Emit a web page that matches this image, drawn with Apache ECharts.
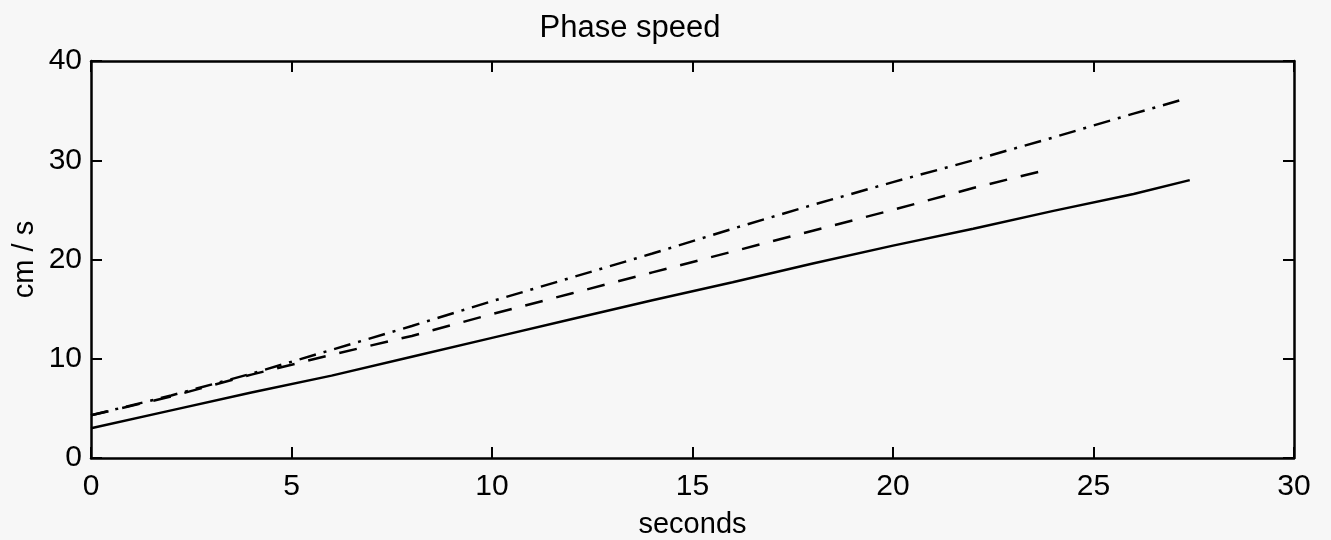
<!DOCTYPE html>
<html>
<head>
<meta charset="utf-8">
<script src="https://cdn.jsdelivr.net/npm/echarts@6/dist/echarts.min.js"></script>
<style>
html,body{margin:0;padding:0;background:#f7f7f7;}
#chart{width:1331px;height:540px;}
</style>
</head>
<body>
<div id="chart"></div>
<script>
const titleText = "Phase speed";
const xLabel = "seconds";
const yLabel = "cm / s";
const xTicks = [0, 5, 10, 15, 20, 25, 30];
const yTicks = [0, 10, 20, 30, 40];

// [seconds, cm/s]
const solidSeries = [[0,3.0],[2,4.8],[4,6.6],[6,8.3],[8,10.2],[10,12.1],[12,14.0],[14,15.9],[16,17.7],[18,19.6],[20,21.4],[22,23.1],[24,24.9],[26,26.6],[27.4,28.0]];
const dashedSeries = [[0,4.3],[2,6.2],[4,8.4],[6,10.4],[8,12.3],[10,14.5],[12,16.6],[14,18.7],[16,20.8],[18,22.9],[20,25.0],[22,27.2],[23.7,28.9]];
const dashDotSeries = [[0,4.3],[2,6.3],[4,8.5],[6,10.9],[8,13.3],[10,15.8],[12,18.2],[14,20.6],[16,23.1],[18,25.5],[20,27.8],[22,30.0],[24,32.3],[26,34.7],[27.3,36.2]];

const FONT = "'Liberation Sans', Arial, Helvetica, sans-serif";
const chart = echarts.init(document.getElementById('chart'));

const axisLine = {show: true, onZero: false, lineStyle: {color: '#000', width: 2.5}};
const tickInside = {show: true, inside: true, length: 11, lineStyle: {color: '#000', width: 2}};
const xMin = xTicks[0], xMax = xTicks[xTicks.length-1], xInt = xTicks[1]-xTicks[0];
const yMin = yTicks[0], yMax = yTicks[yTicks.length-1], yInt = yTicks[1]-yTicks[0];

function line(data, type) {
  return {
    type: 'line', data: data, showSymbol: false, symbol: 'none', smooth: false,
    xAxisIndex: 0, yAxisIndex: 0,
    lineStyle: {color: '#000', width: 2.5, type: type, cap: 'butt'},
    animation: false
  };
}

chart.setOption({
  backgroundColor: '#f7f7f7',
  animation: false,
  title: {
    text: titleText, left: 625, top: 8, textAlign: 'center',
    textStyle: {fontFamily: FONT, fontSize: 31, fontWeight: 'normal', color: '#000'}
  },
  grid: {left: 91, right: 37, top: 61, bottom: 82, containLabel: false, outerBoundsMode: 'none'},
  xAxis: [
    {
      type: 'value', min: xMin, max: xMax, interval: xInt, position: 'bottom',
      name: xLabel, nameLocation: 'middle', nameGap: 52, nameMoveOverlap: false,
      nameTextStyle: {fontFamily: FONT, fontSize: 29, color: '#000'},
      axisLine: axisLine, axisTick: tickInside, splitLine: {show: false},
      axisLabel: {fontFamily: FONT, fontSize: 30, color: '#000', margin: 14}
    },
    {
      type: 'value', min: xMin, max: xMax, interval: xInt, position: 'top',
      axisLine: axisLine, axisTick: tickInside, splitLine: {show: false},
      axisLabel: {show: false}
    }
  ],
  yAxis: [
    {
      type: 'value', min: yMin, max: yMax, interval: yInt, position: 'left',
      name: yLabel, nameLocation: 'middle', nameGap: 52, nameRotate: 90, nameMoveOverlap: false,
      nameTextStyle: {fontFamily: FONT, fontSize: 29, color: '#000'},
      axisLine: axisLine, axisTick: tickInside, splitLine: {show: false},
      axisLabel: {fontFamily: FONT, fontSize: 30, color: '#000', margin: 9}
    },
    {
      type: 'value', min: yMin, max: yMax, interval: yInt, position: 'right',
      axisLine: axisLine, axisTick: tickInside, splitLine: {show: false},
      axisLabel: {show: false}
    }
  ],
  series: [
    line(solidSeries, 'solid'),
    line(dashedSeries, [18, 14]),
    line(dashDotSeries, [17, 8, 3, 8])
  ]
});
</script>
</body>
</html>
